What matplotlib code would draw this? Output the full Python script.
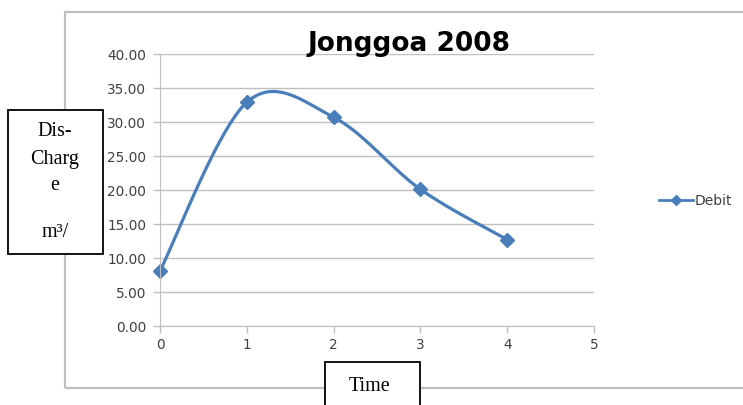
import numpy as np
import matplotlib.pyplot as plt
from matplotlib.patches import Rectangle
from matplotlib.lines import Line2D

# data
time = [0, 1, 2, 3, 4]
debit = [8.1, 32.9, 30.7, 20.1, 12.7]
yticks = np.arange(0, 45, 5)
xticks = [0, 1, 2, 3, 4, 5]

W, H = 743, 406
blue = '#4a7ebb'
grid = '#bfbfbf'
tickc = '#404040'

fig = plt.figure(figsize=(W / 100, H / 100), dpi=100)


def fx(px):
    return px / W


def fy(py):
    return 1 - py / H


# outer chart frame
fig.patches.append(Rectangle((fx(65), fy(389)), fx(700), fy(13) - fy(389),
                             transform=fig.transFigure, fill=False,
                             edgecolor=grid, lw=1.6))

ax = fig.add_axes([fx(160), fy(327), fx(594) - fx(160), fy(55) - fy(327)])
ax.set_xlim(0, 5)
ax.set_ylim(0, 40)
for s in ['top', 'right']:
    ax.spines[s].set_visible(False)
ax.spines['left'].set_color(grid)
ax.spines['bottom'].set_color(grid)
ax.set_yticks(yticks)
ax.set_yticklabels(['%.2f' % v for v in yticks])
ax.set_xticks(xticks)
ax.tick_params(colors=grid, labelcolor=tickc, labelsize=9.8, length=5, width=1)
ax.tick_params(axis='x', pad=3)
ax.tick_params(axis='y', pad=5)
for lab in ax.get_xticklabels() + ax.get_yticklabels():
    lab.set_family('DejaVu Sans')
ax.grid(axis='y', color=grid, lw=1)
ax.set_axisbelow(True)

# smoothed line (bezier through points, like the spreadsheet smoothing)
fig.canvas.draw()
pts = ax.transData.transform(np.column_stack([time, debit]))
n = len(pts)
curve = []
for i in range(n - 1):
    p0 = pts[max(i - 1, 0)]
    p1 = pts[i]
    p2 = pts[i + 1]
    p3 = pts[min(i + 2, n - 1)]
    c1 = p1 + (p2 - p0) / 6
    c2 = p2 - (p3 - p1) / 6
    t = np.linspace(0, 1, 40)[:, None]
    seg = (1 - t) ** 3 * p1 + 3 * (1 - t) ** 2 * t * c1 + 3 * (1 - t) * t ** 2 * c2 + t ** 3 * p2
    curve.append(seg)
curve = ax.transData.inverted().transform(np.vstack(curve))
ax.plot(curve[:, 0], curve[:, 1], color=blue, lw=2.3, clip_on=False)
ax.plot(time, debit, ls='none', marker='D', ms=7, color=blue, clip_on=False)

fig.text(fx(409), fy(44), 'Jonggoa 2008', ha='center', va='center',
         fontsize=19, fontweight='bold', family='DejaVu Sans')

# legend
fig.add_artist(Line2D([fx(659), fx(693)], [fy(201), fy(201)], color=blue, lw=2,
                      transform=fig.transFigure))
fig.add_artist(Line2D([fx(676)], [fy(201)], marker='D', ms=5, color=blue,
                      transform=fig.transFigure))
fig.text(fx(695), fy(201), 'Debit', ha='left', va='center', fontsize=10,
         color=tickc, family='DejaVu Sans')

# y label box
fig.patches.append(Rectangle((fx(8), fy(255)), fx(95), fy(111) - fy(255),
                             transform=fig.transFigure, facecolor='white',
                             edgecolor='black', lw=1.3, zorder=5))
for txt, py in [('Dis-', 132), ('Charg', 160), ('e', 186), ('m³/', 233)]:
    fig.text(fx(55), fy(py), txt, ha='center', va='center', fontsize=14.5,
             family='Liberation Serif', zorder=6)

# x label box
fig.patches.append(Rectangle((fx(325), fy(420)), fx(95), fy(363) - fy(420),
                             transform=fig.transFigure, facecolor='white',
                             edgecolor='black', lw=1.3, zorder=5))
fig.text(fx(370), fy(387), 'Time', ha='center', va='center', fontsize=14.5,
         family='Liberation Serif', zorder=6)

fig.savefig('out.png', dpi=100)
